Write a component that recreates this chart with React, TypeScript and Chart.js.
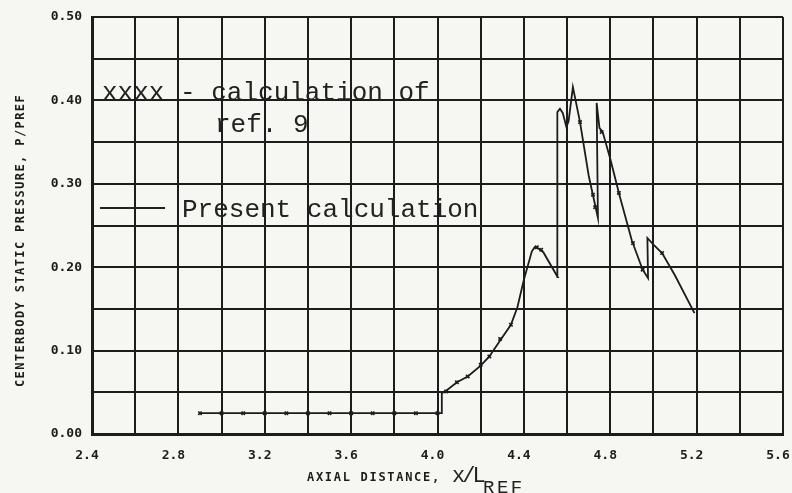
import React, { useEffect, useRef } from "react";
import { Chart, registerables } from "chart.js";

Chart.register(...registerables);

// Present calculation: centerbody static pressure along the axis
const presentX = [
  2.9, 4.02, 4.02, 4.04, 4.09, 4.14, 4.2, 4.24, 4.29, 4.34, 4.37, 4.4, 4.437, 4.45, 4.47, 4.49, 4.557,
  4.555, 4.567, 4.58, 4.597, 4.607, 4.627, 4.66, 4.7, 4.743,
  4.737, 4.75, 4.765, 4.8, 4.844, 4.9, 4.95, 4.975,
  4.972, 5.0, 5.04, 5.1, 5.19,
];
const presentY = [
  0.025, 0.025, 0.049, 0.052, 0.062, 0.069, 0.082, 0.093, 0.112, 0.131, 0.152, 0.185, 0.219, 0.224, 0.222, 0.218, 0.188,
  0.386, 0.39, 0.385, 0.368, 0.375, 0.416, 0.374, 0.31, 0.259,
  0.397, 0.367, 0.362, 0.33, 0.285, 0.232, 0.197, 0.187,
  0.235, 0.227, 0.217, 0.19, 0.145,
];

// Calculation of ref. 9 (discrete symbols)
const ref9X = [
  2.9, 3.0, 3.1, 3.2, 3.3, 3.4, 3.5, 3.6, 3.7, 3.8, 3.9, 4.0,
  4.04, 4.09, 4.14, 4.2, 4.24, 4.29, 4.34, 4.46, 4.48,
  4.66, 4.72, 4.73, 4.76, 4.84, 4.905, 4.95, 5.04,
];
const ref9Y = [
  0.025, 0.025, 0.025, 0.025, 0.025, 0.025, 0.025, 0.025, 0.025, 0.025, 0.025, 0.025,
  0.051, 0.062, 0.069, 0.083, 0.093, 0.114, 0.131, 0.224, 0.221,
  0.374, 0.287, 0.272, 0.362, 0.289, 0.229, 0.197, 0.217,
];

// Axis ranges and labelled ticks
const xMin = 2.4;
const xMax = 5.6;
const xStep = 0.2;
const xLabels = ["2.4", "2.8", "3.2", "3.6", "4.0", "4.4", "4.8", "5.2", "5.6"];
const yMin = 0;
const yMax = 0.5;
const yStep = 0.05;
const yLabels = ["0.00", "0.10", "0.20", "0.30", "0.40", "0.50"];

const INK = "#1c1c1c";
const PAPER = "#f6f6f3";

const paperPlugin = {
  id: "paper",
  beforeDraw(chart: any) {
    const { ctx, width, height } = chart;
    ctx.save();
    ctx.fillStyle = PAPER;
    ctx.fillRect(0, 0, width, height);
    ctx.restore();
  },
};

const annotationPlugin = {
  id: "annotations",
  afterDraw(chart: any) {
    const { ctx, chartArea } = chart;
    const { left, top, bottom } = chartArea;
    ctx.save();
    ctx.fillStyle = "#222222";
    ctx.strokeStyle = "#222222";
    ctx.textBaseline = "alphabetic";
    ctx.textAlign = "left";

    // legend text typed inside the plot
    ctx.font = '26px "Liberation Mono"';
    ctx.fillText("xxxx - calculation of", left + 10, top + 83);
    ctx.fillText("ref. 9", left + 123, top + 115);
    ctx.fillText("Present calculation", left + 90, top + 200);
    ctx.lineWidth = 2;
    ctx.beginPath();
    ctx.moveTo(left + 8, top + 191);
    ctx.lineTo(left + 73, top + 191);
    ctx.stroke();

    // x-axis title
    ctx.fillStyle = INK;
    ctx.font = 'bold 12px "DejaVu Sans Mono"';
    (ctx as any).letterSpacing = "1.7px";
    ctx.fillText("AXIAL DISTANCE,", 307, bottom + 47);
    ctx.fillStyle = "#222222";
    ctx.font = '22px "Liberation Mono"';
    (ctx as any).letterSpacing = "-3px";
    ctx.fillText("x/L", 452, bottom + 48);
    ctx.font = '19px "Liberation Mono"';
    (ctx as any).letterSpacing = "2.5px";
    ctx.fillText("REF", 483, bottom + 59);

    // y-axis title
    ctx.fillStyle = INK;
    ctx.font = 'bold 12px "DejaVu Sans Mono"';
    (ctx as any).letterSpacing = "1.4px";
    ctx.translate(24, (top + bottom) / 2 + 15);
    ctx.rotate(-Math.PI / 2);
    ctx.textAlign = "center";
    ctx.fillText("CENTERBODY STATIC PRESSURE, P/PREF", 0, 0);
    ctx.restore();
  },
};

export default function App() {
  const ref = useRef<HTMLCanvasElement | null>(null);

  useEffect(() => {
    document.body.style.margin = "0";
    document.body.style.background = PAPER;
    const canvas = ref.current;
    if (!canvas) return;

    const present = presentX.map((x, i) => ({ x, y: presentY[i] }));
    const ref9 = ref9X.map((x, i) => ({ x, y: ref9Y[i] }));

    const chart = new Chart(canvas, {
      type: "scatter",
      data: {
        datasets: [
          {
            label: "Present calculation",
            data: present,
            showLine: true,
            borderColor: INK,
            borderWidth: 1.8,
            pointRadius: 0,
            tension: 0,
          },
          {
            label: "xxxx - calculation of ref. 9",
            data: ref9,
            showLine: false,
            pointStyle: "crossRot",
            pointRadius: 2.4,
            borderColor: INK,
            borderWidth: 1.6,
          },
        ],
      },
      options: {
        animation: false,
        responsive: false,
        maintainAspectRatio: false,
        layout: { padding: { top: 17, right: 9, left: 0, bottom: 0 } },
        plugins: {
          legend: { display: false },
          tooltip: { enabled: false },
        },
        scales: {
          x: {
            type: "linear",
            min: xMin,
            max: xMax,
            afterFit(scale: any) {
              scale.height = 59;
              scale.paddingLeft = 0;
              scale.paddingRight = 0;
            },
            ticks: {
              stepSize: xStep,
              autoSkip: false,
              maxRotation: 0,
              padding: 14,
              labelOffset: -5,
              color: INK,
              font: { family: "DejaVu Sans Mono", size: 13, weight: "bold" },
              callback(value: any) {
                const s = Number(value).toFixed(1);
                return xLabels.includes(s) ? s : "";
              },
            },
            grid: { color: INK, lineWidth: 2, drawTicks: false },
            border: { color: INK, width: 3 },
          },
          y: {
            type: "linear",
            min: yMin,
            max: yMax,
            afterFit(scale: any) {
              scale.width = 92;
              scale.paddingTop = 0;
              scale.paddingBottom = 0;
            },
            ticks: {
              stepSize: yStep,
              autoSkip: false,
              padding: 10,
              color: INK,
              font: { family: "DejaVu Sans Mono", size: 13, weight: "bold" },
              callback(value: any) {
                const s = Number(value).toFixed(2);
                return yLabels.includes(s) ? s : "";
              },
            },
            grid: { color: INK, lineWidth: 2, drawTicks: false },
            border: { color: INK, width: 3 },
          },
        },
      },
      plugins: [paperPlugin, annotationPlugin],
    });

    return () => chart.destroy();
  }, []);

  return (
    <div style={{ width: 792, height: 493 }}>
      <canvas ref={ref} width={792} height={493} style={{ display: "block" }} />
    </div>
  );
}
